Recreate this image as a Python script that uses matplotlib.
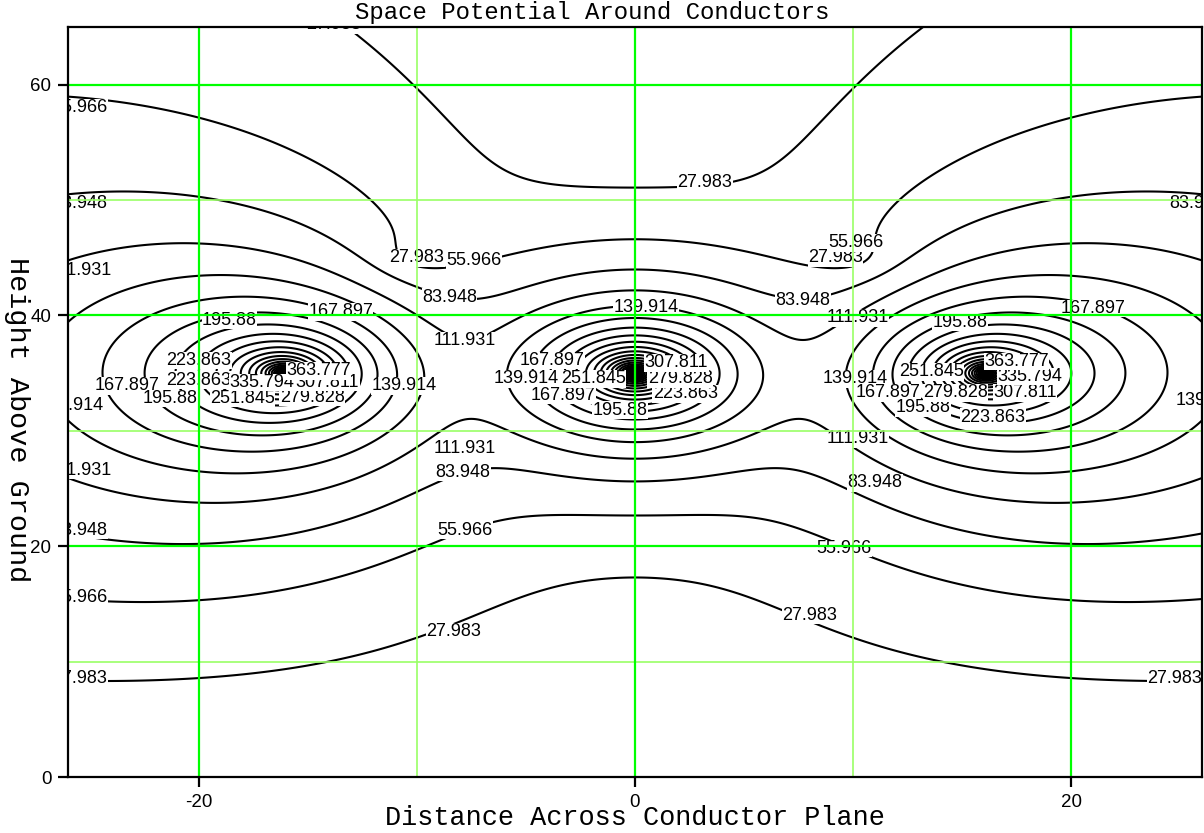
import numpy as np
import matplotlib
matplotlib.use("Agg")
import matplotlib.pyplot as plt

plt.rcParams['font.family'] = ['Liberation Sans', 'DejaVu Sans']
plt.rcParams['axes.unicode_minus'] = False

# three phase conductors in a flat horizontal plane
cond_x = [-16.1, 0.0, 16.1]
cond_y = [35.0, 35.0, 35.0]
cond_radius = 0.5
phase_deg = [0.0, 120.0, 240.0]
phase_volts = 515.0

# grounded shield wires above the phases
shield_x = [-9.8, 9.8]
shield_y = [45.2, 45.2]
shield_radius = 0.03

# contour levels (labelled ones, then the rings packed round each conductor)
levels = [27.983, 55.966, 83.948, 111.931, 139.914, 167.897, 195.88,
          223.863, 251.845, 279.828, 307.811, 335.794, 363.777]
core_levels = [391.76, 419.743, 447.726, 475.708, 503.691, 531.674, 559.657,
               587.64, 615.623, 643.606, 671.589, 699.572, 727.555, 755.538,
               783.521, 811.504, 839.487]

# label centres for each level
label_spots = [
    [(-13.8, 65.2), (3.2, 51.5), (-10.0, 45.0), (9.2, 45.0), (-8.3, 12.6), (8.0, 14.0),
     (-25.45, 8.5), (24.75, 8.5)],
    [(-25.45, 58.0), (-7.4, 44.8), (10.15, 46.3), (-25.45, 15.6), (-7.8, 21.4), (9.6, 19.8)],
    [(-25.45, 49.7), (25.76, 49.7), (-8.5, 41.6), (7.7, 41.3), (-25.45, 21.4), (-7.9, 26.4),
     (11.0, 25.5)],
    [(-25.4, 43.9), (-7.8, 37.8), (10.2, 39.8), (-7.8, 28.5), (10.2, 29.3), (-25.4, 26.6)],
    [(0.5, 40.7), (-10.6, 33.9), (-5.0, 34.5), (10.1, 34.5), (-25.85, 32.2), (26.3, 32.6)],
    [(-13.5, 40.3), (21.0, 40.6), (-3.8, 36.1), (-23.3, 33.9), (-3.3, 33.1), (11.6, 33.3)],
    [(-18.6, 39.6), (14.9, 39.4), (-21.3, 32.8), (-0.7, 31.8), (13.2, 32.0)],
    [(-20.0, 36.1), (-20.0, 34.4), (2.3, 33.2), (16.4, 31.2)],
    [(-1.9, 34.5), (13.6, 35.1), (-18.0, 32.8)],
    [(2.07, 34.5), (-14.8, 32.9), (14.7, 33.3)],
    [(1.9, 35.9), (-14.1, 34.2), (17.9, 33.3)],
    [(-17.1, 34.2), (18.1, 34.7)],
    [(-14.5, 35.2), (17.5, 36.0)],
]

x_major = [-20, 0, 20]
y_major = [0, 20, 40, 60]
x_minor = [-10, 10]
y_minor = [10, 30, 50]

# charges from Maxwell potential coefficients (ground plane images)
wx = np.array(cond_x + shield_x)
wy = np.array(cond_y + shield_y)
wr = np.array([cond_radius] * len(cond_x) + [shield_radius] * len(shield_x))
n = len(wx)
P = np.zeros((n, n))
for i in range(n):
    for j in range(n):
        if i == j:
            P[i, j] = np.log(2 * wy[i] / wr[i])
        else:
            d = np.hypot(wx[i] - wx[j], wy[i] - wy[j])
            di = np.hypot(wx[i] - wx[j], wy[i] + wy[j])
            P[i, j] = np.log(di / d)
V = np.zeros(n, dtype=complex)
V[:len(cond_x)] = phase_volts * np.exp(1j * np.radians(phase_deg))
Q = np.linalg.solve(P.astype(complex), V)

X, Y = np.meshgrid(np.linspace(-26, 26, 521), np.linspace(0, 65, 651))
phi = np.zeros(X.shape, dtype=complex)
for k in range(n):
    r = np.maximum(np.hypot(X - wx[k], Y - wy[k]), min(wr[k], 0.05))
    ri = np.hypot(X - wx[k], Y + wy[k])
    phi += Q[k] * np.log(ri / r)
pot = np.abs(phi)

fig = plt.figure(figsize=(12.04, 8.33), dpi=100)
ax = fig.add_axes([68 / 1204, 56 / 833, 1134 / 1204, 750 / 833])

labels = []
for lev, spots in zip(levels, label_spots):
    cs = ax.contour(X, Y, pot, levels=[lev], colors='black', linewidths=1.5)
    texts = ax.clabel(cs, manual=spots, inline=False, fmt='%g',
                      fontsize=13, colors='black')
    for t, xy in zip(texts, spots):
        t.set_position(xy)
    labels += texts
ax.contour(X, Y, pot, levels=core_levels, colors='black', linewidths=1.5)
for t in labels:
    t.set_rotation(0)
    t.set_bbox(dict(facecolor='white', edgecolor='none', pad=0.3))

for xv in x_minor:
    ax.axvline(xv, color='#99ff66', lw=1.2, zorder=5)
for yv in y_minor:
    ax.axhline(yv, color='#99ff66', lw=1.2, zorder=5)
for xv in x_major:
    ax.axvline(xv, color='#00ff00', lw=1.6, zorder=5)
for yv in y_major[1:]:
    ax.axhline(yv, color='#00ff00', lw=1.6, zorder=5)

ax.set_xlim(-26, 26)
ax.set_ylim(0, 65)
ax.set_xticks(x_major)
ax.set_yticks(y_major)
ax.tick_params(direction='out', length=7, width=1.6, labelsize=13.5, pad=5)
for s in ax.spines.values():
    s.set_linewidth(1.6)
    s.set_zorder(6)

fig.text(592 / 1204, 1 - 12 / 833, 'Space Potential Around Conductors',
         family='Liberation Mono', fontsize=17.3, ha='center', va='center')
fig.text(635 / 1204, 1 - 818 / 833, 'Distance Across Conductor Plane',
         family='Liberation Mono', fontsize=19.4, ha='center', va='center')
fig.text(17 / 1204, 1 - 420 / 833, 'Height Above Ground',
         family='Liberation Mono', fontsize=20.5, ha='center', va='center', rotation=-90)

fig.savefig('out.png', dpi=100)
